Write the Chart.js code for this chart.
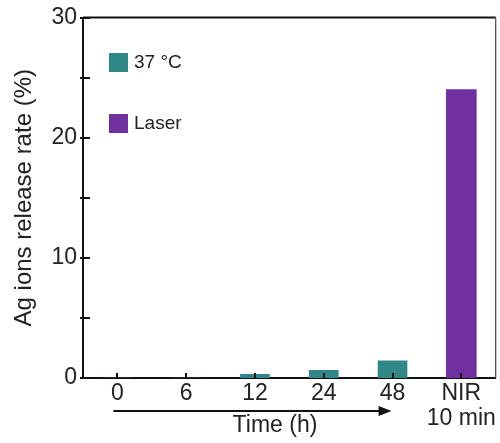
<!DOCTYPE html>
<html>
<head>
<meta charset="utf-8">
<script src="https://cdn.jsdelivr.net/npm/chart.js@4.4.1/dist/chart.umd.min.js"></script>
<style>
  html, body { margin: 0; padding: 0; background: #fff; }
  #wrap { width: 500px; height: 443px; }
</style>
</head>
<body>
<div id="wrap"><canvas id="releaseChart"></canvas></div>
<script>
// Data
const categories = ['0', '6', '12', '24', '48', ['NIR', '10 min']];
const temp37 = [0, 0, 0.3, 0.64, 1.43, null];
const laser = [null, null, null, null, null, 24.0];
const yMajorTicks = [0, 10, 20, 30];
const yMinorTicks = [5, 15, 25];

const FONT = "'Liberation Sans', Arial, sans-serif";
const TEXT = '#222';
const TEAL = '#2f8787';
const PURPLE = '#7030a0';

// Inner ticks, top/right frame, legend and the time arrow
const decorPlugin = {
    id: 'decor',
    afterDraw(chart) {
        const ctx = chart.ctx;
        const area = chart.chartArea;
        const x = chart.scales.x;
        const y = chart.scales.y;
        ctx.save();

        // frame top and right
        ctx.strokeStyle = '#111';
        ctx.lineWidth = 2;
        ctx.beginPath();
        ctx.moveTo(area.left, area.top);
        ctx.lineTo(area.right, area.top);
        ctx.stroke();
        ctx.lineWidth = 1.2;
        ctx.strokeStyle = '#444';
        ctx.beginPath();
        ctx.moveTo(area.right, area.top);
        ctx.lineTo(area.right, area.bottom);
        ctx.stroke();

        // y ticks pointing inward
        ctx.strokeStyle = '#111';
        ctx.lineWidth = 2;
        yMajorTicks.concat(yMinorTicks).forEach(v => {
            const py = Math.round(y.getPixelForValue(v));
            ctx.beginPath();
            ctx.moveTo(area.left - 3, py);
            ctx.lineTo(area.left + 7, py);
            ctx.stroke();
        });

        // x ticks pointing inward
        categories.forEach((c, i) => {
            const px = Math.round(x.getPixelForValue(i));
            ctx.beginPath();
            ctx.moveTo(px, area.bottom);
            ctx.lineTo(px, area.bottom - 5);
            ctx.stroke();
        });

        // legend
        const items = chart.data.datasets.map(d => ({ label: d.label, color: d.backgroundColor }));
        ctx.font = '19px ' + FONT;
        ctx.textBaseline = 'middle';
        ctx.textAlign = 'left';
        items.forEach((it, i) => {
            const top = 53 + i * 61;
            ctx.fillStyle = it.color;
            ctx.fillRect(109, top, 19, 19);
            ctx.fillStyle = TEXT;
            ctx.fillText(it.label, 134, top + 10);
        });

        // time arrow under the hour labels
        const ax0 = x.getPixelForValue(0) - 4;
        const ax1 = x.getPixelForValue(4) - 1;
        const ay = 411;
        ctx.strokeStyle = '#111';
        ctx.lineWidth = 2;
        ctx.beginPath();
        ctx.moveTo(ax0, ay);
        ctx.lineTo(ax1 - 10, ay);
        ctx.stroke();
        ctx.fillStyle = '#111';
        ctx.beginPath();
        ctx.moveTo(ax1, ay);
        ctx.lineTo(ax1 - 13, ay - 5);
        ctx.lineTo(ax1 - 13, ay + 5);
        ctx.closePath();
        ctx.fill();

        ctx.font = '23px ' + FONT;
        ctx.fillStyle = TEXT;
        ctx.textAlign = 'center';
        ctx.fillText('Time (h)', 275, 426);
        ctx.restore();
    }
};

const ctx = document.getElementById('releaseChart').getContext('2d');
new Chart(ctx, {
    type: 'bar',
    data: {
        labels: categories,
        datasets: [{
            label: '37 °C',
            data: temp37,
            backgroundColor: TEAL,
            barThickness: 29,
            grouped: false
        }, {
            label: 'Laser',
            data: laser,
            backgroundColor: PURPLE,
            barThickness: 30,
            grouped: false
        }]
    },
    options: {
        responsive: true,
        maintainAspectRatio: false,
        animation: false,
        layout: { padding: { top: 16, right: 2, left: 0, bottom: 0 } },
        plugins: {
            legend: { display: false },
            tooltip: { enabled: false }
        },
        scales: {
            x: {
                offset: true,
                grid: { display: false, drawTicks: false },
                border: { display: true, color: '#111', width: 2 },
                ticks: {
                    color: TEXT,
                    padding: 4,
                    maxRotation: 0,
                    autoSkip: false,
                    font: { family: FONT, size: 23, lineHeight: 1.05 }
                },
                afterFit: scale => { scale.height = 65; }
            },
            y: {
                min: 0,
                max: 30,
                grid: { display: false, drawTicks: false },
                border: { display: true, color: '#111', width: 2 },
                ticks: {
                    stepSize: 10,
                    color: TEXT,
                    padding: 6,
                    font: { family: FONT, size: 23, lineHeight: 1 }
                },
                title: {
                    display: true,
                    text: 'Ag ions release rate (%)',
                    color: TEXT,
                    font: { family: FONT, size: 24 },
                    padding: { top: 10, bottom: 0 }
                },
                afterFit: scale => { scale.width = 83; }
            }
        }
    },
    plugins: [decorPlugin]
});
</script>
</body>
</html>
